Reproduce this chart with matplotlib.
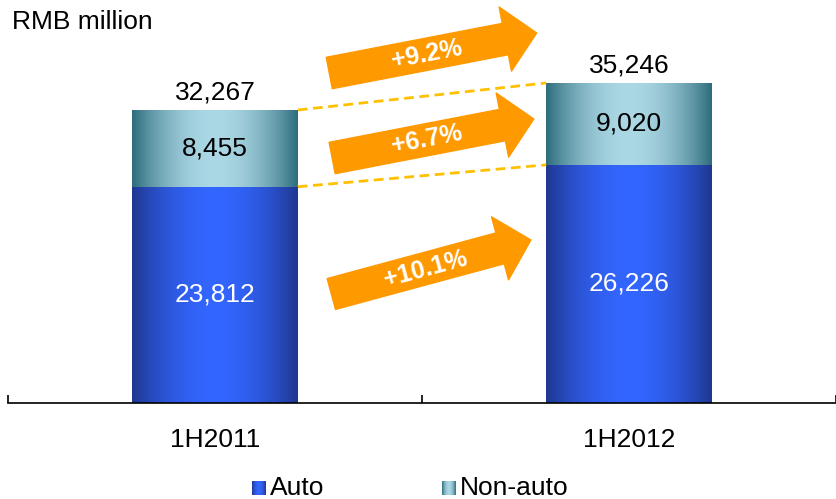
"""
Premium income split, 1H2011 vs 1H2012
"""

import matplotlib
matplotlib.use("Agg")
import numpy as np
import matplotlib.pyplot as plt
from matplotlib.patches import FancyArrowPatch, ArrowStyle

plt.rcParams['font.family'] = ['Liberation Sans', 'DejaVu Sans']

periods = ["1H2011", "1H2012"]
auto = [23812, 26226]
non_auto = [8455, 9020]
totals = [32267, 35246]
growth_labels = ["+9.2%", "+6.7%", "+10.1%"]

AUTO_EDGE, AUTO_MID = "#1f3790", "#3366ff"
NON_EDGE, NON_MID = "#2e6d7d", "#acd8e5"
ORANGE = "#ff9900"


def gradient(edge, mid, n=200):
    """Horizontal gradient: dark at both sides, light in the middle"""
    e = np.array(matplotlib.colors.to_rgb(edge))
    m = np.array(matplotlib.colors.to_rgb(mid))
    t = np.abs(np.linspace(-1, 1, n)) ** 1.9
    row = m[None, :] * (1 - t[:, None]) + e[None, :] * t[:, None]
    return row[None, :, :]


fig = plt.figure(figsize=(8.36, 4.99), dpi=100)
ax = fig.add_axes([8 / 836, 96 / 499, 828 / 836, 403 / 499])

x = np.arange(len(periods))
width = 0.4
ymax = 44380
xlim = (-0.5, -0.5 + 828 / 415)

# Stacked bars, outlines only; the fill is a gradient image clipped to each bar
bars_auto = ax.bar(x, auto, width, facecolor='none', edgecolor='none')
bars_non = ax.bar(x, non_auto, width, bottom=auto, facecolor='none', edgecolor='none')
for bars, edge, mid in [(bars_auto, AUTO_EDGE, AUTO_MID), (bars_non, NON_EDGE, NON_MID)]:
    for b in bars:
        x0, y0 = b.get_x(), b.get_y()
        im = ax.imshow(gradient(edge, mid), extent=[x0, x0 + b.get_width(), y0, y0 + b.get_height()],
                       aspect='auto', zorder=2)
        im.set_clip_path(b)

ax.set_xlim(*xlim)
ax.set_ylim(0, ymax)

# Segment and total labels
for i in range(len(periods)):
    ax.text(x[i], auto[i] / 2, f"{auto[i]:,}", ha='center', va='center',
            color='white', fontsize=19, zorder=5)
    ax.text(x[i], auto[i] + non_auto[i] / 2, f"{non_auto[i]:,}", ha='center', va='center',
            color='black', fontsize=19, zorder=5)
    ax.annotate(f"{totals[i]:,}", (x[i], totals[i]), xytext=(0, 4), textcoords='offset points',
                ha='center', va='bottom', fontsize=19)

# Dashed connectors between the bar tops
for a, b in [(totals[0], totals[1]), (auto[0], auto[1])]:
    ax.plot([x[0] + width / 2, x[1] - width / 2], [a, b], color='#ffc000', lw=2,
            dashes=(3.5, 2), zorder=3)

# Growth arrows (tail, tip in data coords)
arrows = [((0.276, 36340), (0.777, 40745)),
          ((0.283, 26980), (0.770, 31275)),
          ((0.281, 12003), (0.763, 17950))]
style = ArrowStyle.Simple(head_length=23, head_width=47, tail_width=23)
for (tail, tip), label in zip(arrows, growth_labels):
    arr = FancyArrowPatch(tail, tip, arrowstyle=style, mutation_scale=1, color=ORANGE,
                          shrinkA=0, shrinkB=0, zorder=4)
    ax.add_patch(arr)
    p0 = ax.transData.transform(tail)
    p1 = ax.transData.transform(tip)
    ang = np.degrees(np.arctan2(p1[1] - p0[1], p1[0] - p0[0]))
    tx = tail[0] + 0.47 * (tip[0] - tail[0])
    ty = tail[1] + 0.47 * (tip[1] - tail[1])
    ax.text(tx, ty, label, rotation=ang, rotation_mode='anchor', ha='center', va='center',
            color='white', fontsize=18, fontweight='bold', zorder=5)

# Axis styling
for s in ['top', 'right', 'left']:
    ax.spines[s].set_visible(False)
ax.spines['bottom'].set_linewidth(1.2)
ax.set_yticks([])
ax.set_xticks(x)
ax.set_xticklabels(periods, fontsize=19)
ax.tick_params(axis='x', which='major', length=0, pad=18)
ax.set_xticks([-0.5, 0.5, 1.5], minor=True)
ax.tick_params(axis='x', which='minor', direction='in', length=6, width=1.2)

fig.text(12 / 836, 1 - 22 / 499, "RMB million", fontsize=19, ha='left', va='center')

# Legend with gradient swatches
for px, label, edge, mid in [(252, "Auto", AUTO_EDGE, AUTO_MID),
                            (442, "Non-auto", NON_EDGE, NON_MID)]:
    sw = fig.add_axes([px / 836, (499 - 495) / 499, 14 / 836, 14 / 499])
    sw.imshow(gradient(edge, mid), aspect='auto')
    sw.axis('off')
    fig.text((px + 18) / 836, (499 - 488) / 499, label, fontsize=19, ha='left', va='center')

fig.savefig("out.png", dpi=100)
